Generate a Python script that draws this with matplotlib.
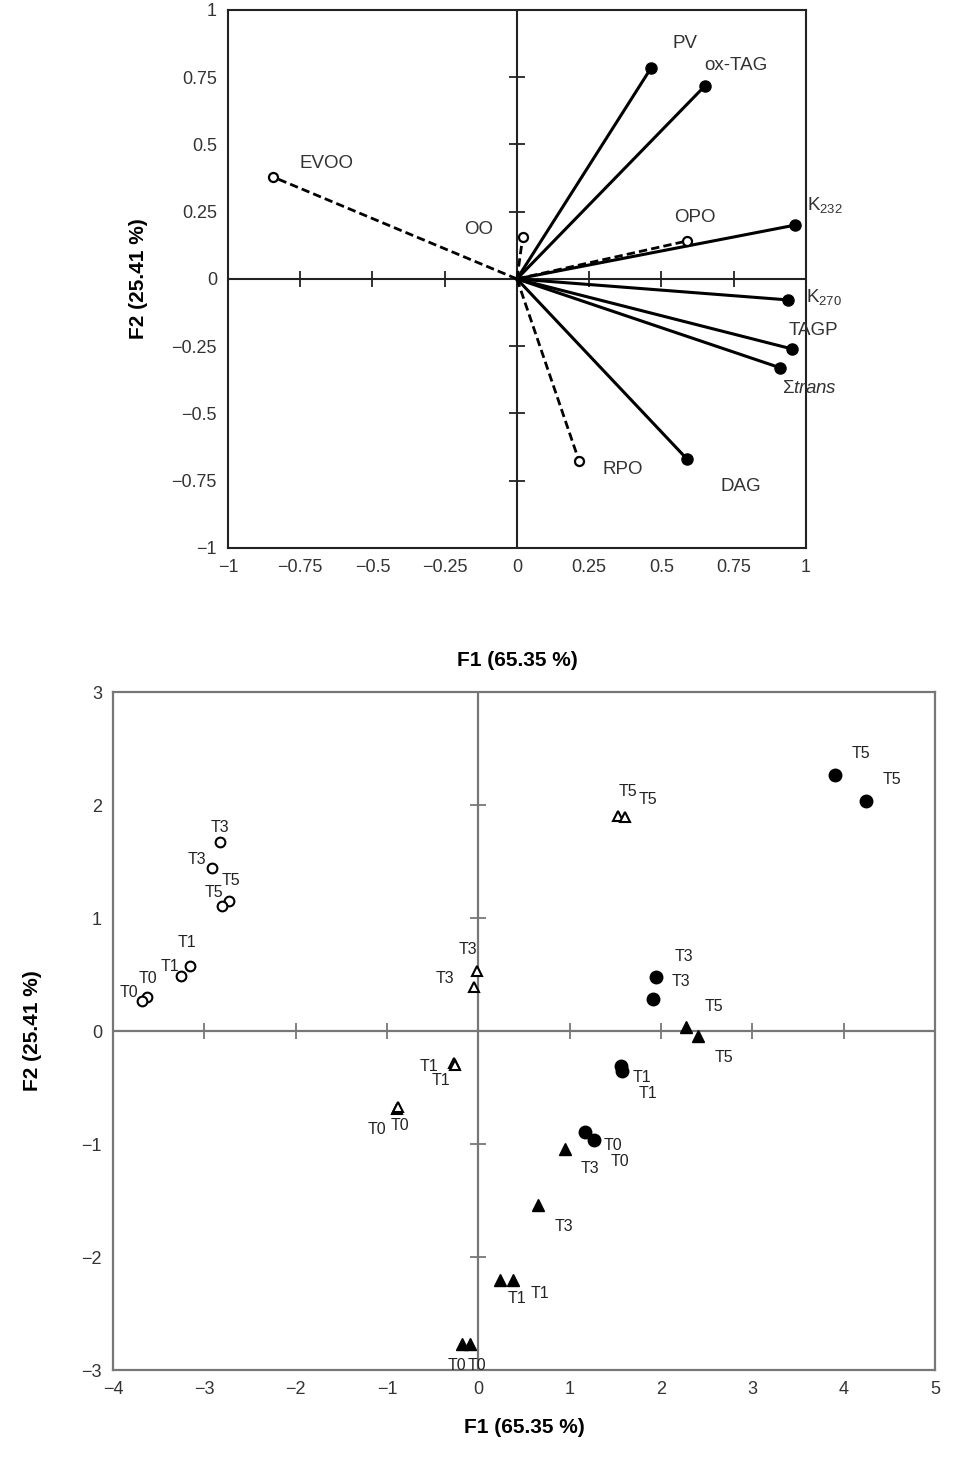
import matplotlib.pyplot as plt

plt.rcParams['font.family'] = ['Liberation Sans', 'DejaVu Sans']
plt.rcParams['mathtext.fontset'] = 'custom'
plt.rcParams['mathtext.rm'] = 'Liberation Sans'
plt.rcParams['mathtext.it'] = 'Liberation Sans:italic'

# --- variables (correlation circle) ---
var_names = ['PV', 'ox-TAG', 'K$_{232}$', 'OPO', 'OO', 'EVOO',
             'K$_{270}$', 'TAGP', r'$\Sigma\mathit{trans}$', 'DAG', 'RPO']
var_f1 = [0.464, 0.65, 0.962, 0.588, 0.02, -0.844, 0.938, 0.951, 0.91, 0.588, 0.215]
var_f2 = [0.784, 0.717, 0.20, 0.141, 0.156, 0.379, -0.078, -0.26, -0.33, -0.669, -0.677]
var_active = [True, True, True, False, False, False, True, True, True, True, False]

top_ticks = [-1, -0.75, -0.5, -0.25, 0, 0.25, 0.5, 0.75, 1]
top_tick_labels = ['\u22121', '\u22120.75', '\u22120.5', '\u22120.25', '0',
                   '0.25', '0.5', '0.75', '1']

# --- observations (score plot) ---
obs_labels = ['T3', 'T3', 'T5', 'T5', 'T1', 'T1', 'T0', 'T0']
open_circ_f1 = [-2.83, -2.92, -2.73, -2.81, -3.16, -3.25, -3.63, -3.68]
open_circ_f2 = [1.67, 1.44, 1.15, 1.11, 0.58, 0.49, 0.30, 0.27]

open_tri_labels = ['T5', 'T5', 'T3', 'T3', 'T1', 'T1', 'T0', 'T0']
open_tri_f1 = [1.53, 1.61, -0.01, -0.05, -0.27, -0.26, -0.89, -0.88]
open_tri_f2 = [1.90, 1.89, 0.53, 0.39, -0.28, -0.30, -0.69, -0.67]

fill_circ_labels = ['T5', 'T5', 'T3', 'T3', 'T1', 'T1', 'T0', 'T0']
fill_circ_f1 = [3.90, 4.24, 1.95, 1.91, 1.56, 1.57, 1.17, 1.27]
fill_circ_f2 = [2.27, 2.04, 0.48, 0.28, -0.31, -0.35, -0.89, -0.96]

fill_tri_labels = ['T5', 'T5', 'T3', 'T3', 'T1', 'T1', 'T0', 'T0']
fill_tri_f1 = [2.27, 2.40, 0.95, 0.65, 0.24, 0.38, -0.18, -0.09]
fill_tri_f2 = [0.04, -0.04, -1.04, -1.54, -2.20, -2.20, -2.77, -2.77]

bot_xticks = [-4, -3, -2, -1, 0, 1, 2, 3, 4, 5]
bot_yticks = [-3, -2, -1, 0, 1, 2, 3]

# label offsets in pixels (dx, dy; screen y down)
var_offsets = [(34, -25), (31, -21), (30, -20), (8, -24), (-44, -7), (53, -13),
               (36, -3), (22, -18), (30, 21), (54, 28), (44, 8)]
open_circ_off = [(0, -15), (-15, -9), (2, -21), (-8, -13), (-3, -23), (-12, -9),
                 (1, -19), (-13, -8)]
open_tri_off = [(10, -25), (23, -18), (-9, -22), (-29, -8), (-25, 4), (-14, 16),
                (-20, 20), (2, 19)]
fill_circ_off = [(26, -21), (26, -21), (27, -20), (28, -18), (21, 11), (26, 23),
                 (28, 14), (26, 22)]
fill_tri_off = [(28, -20), (26, 22), (25, 20), (26, 21), (17, 19), (27, 14),
                (-5, 21), (7, 21)]


def fmt_tick(v):
  s = ('%g' % v)
  return s.replace('-', '\u2212')


fig = plt.figure(figsize=(9.6, 14.6), dpi=100)

# ---------------- top: loadings ----------------
ax1 = fig.add_axes([0.2375, 0.6247, 0.602, 0.3685])
ax1.set_xlim(-1, 1)
ax1.set_ylim(-1, 1)
for sp in ax1.spines.values():
  sp.set_linewidth(1.5)
  sp.set_color('#222222')
ax1.set_xticks(top_ticks)
ax1.set_xticklabels(top_tick_labels)
ax1.set_yticks(top_ticks)
ax1.set_yticklabels(top_tick_labels)
ax1.tick_params(length=0, labelsize=13, colors='#333333', pad=8)

ax1.axhline(0, color='#222222', lw=1.5, zorder=1)
ax1.axvline(0, color='#222222', lw=1.5, zorder=1)
inner = [t for t in top_ticks if t not in (-1, 0, 1)]
ax1.plot(inner, [0] * len(inner), ls='none', marker='|', ms=11, mew=1.3,
         color='#222222')
ax1.plot([0] * len(inner), inner, ls='none', marker='_', ms=11, mew=1.3,
         color='#222222')

for name, x, y, act, off in zip(var_names, var_f1, var_f2, var_active, var_offsets):
  if act:
    ax1.plot([0, x], [0, y], color='black', lw=2.2, zorder=3)
    ax1.plot(x, y, 'o', color='black', ms=8, zorder=4)
  else:
    ax1.plot([0, x], [0, y], color='black', lw=2, ls=(0, (3, 1.5)), zorder=3)
    ax1.plot(x, y, 'o', mfc='white', mec='black', mew=1.6, ms=6.5, zorder=4)
  ax1.annotate(name, (x, y), xytext=(off[0], -off[1]), textcoords='offset pixels',
               ha='center', va='center', fontsize=13.5, color='#333333')

ax1.set_ylabel('F2 (25.41 %)', fontsize=15, fontweight='bold', labelpad=17)
fig.text(517 / 960, 1 - 660 / 1460, 'F1 (65.35 %)', ha='center', va='center',
         fontsize=15, fontweight='bold')

# ---------------- bottom: scores ----------------
ax2 = fig.add_axes([0.1177, 0.0616, 0.8563, 0.4644])
ax2.set_xlim(-4, 5)
ax2.set_ylim(-3, 3)
for sp in ax2.spines.values():
  sp.set_linewidth(1.6)
  sp.set_color('#777777')
ax2.set_xticks(bot_xticks)
ax2.set_xticklabels([fmt_tick(t) for t in bot_xticks])
ax2.set_yticks(bot_yticks)
ax2.set_yticklabels([fmt_tick(t) for t in bot_yticks])
ax2.tick_params(length=0, labelsize=13, colors='#333333', pad=8)

ax2.axhline(0, color='#777777', lw=1.6, zorder=1)
ax2.axvline(0, color='#777777', lw=1.6, zorder=1)
bx = [t for t in bot_xticks if t not in (-4, 0, 5)]
by = [t for t in bot_yticks if t not in (-3, 0, 3)]
ax2.plot(bx, [0] * len(bx), ls='none', marker='|', ms=11, mew=1.3, color='#777777')
ax2.plot([0] * len(by), by, ls='none', marker='_', ms=11, mew=1.3, color='#777777')

groups = [
    (open_circ_f1, open_circ_f2, obs_labels, open_circ_off,
     dict(marker='o', mfc='white', mec='black', mew=1.5, ms=7)),
    (open_tri_f1, open_tri_f2, open_tri_labels, open_tri_off,
     dict(marker='^', mfc='white', mec='black', mew=1.5, ms=7)),
    (fill_circ_f1, fill_circ_f2, fill_circ_labels, fill_circ_off,
     dict(marker='o', color='black', ms=9)),
    (fill_tri_f1, fill_tri_f2, fill_tri_labels, fill_tri_off,
     dict(marker='^', color='black', ms=8.5)),
]
for xs, ys, labs, offs, style in groups:
  ax2.plot(xs, ys, ls='none', zorder=4, **style)
  for x, y, lab, off in zip(xs, ys, labs, offs):
    ax2.annotate(lab, (x, y), xytext=(off[0], -off[1]), textcoords='offset pixels',
                 ha='center', va='center', fontsize=11.5, color='#222222')

ax2.set_xlabel('F1 (65.35 %)', fontsize=15, fontweight='bold', labelpad=14)
ax2.set_ylabel('F2 (25.41 %)', fontsize=15, fontweight='bold', labelpad=28)

fig.savefig('out.png', dpi=100)
